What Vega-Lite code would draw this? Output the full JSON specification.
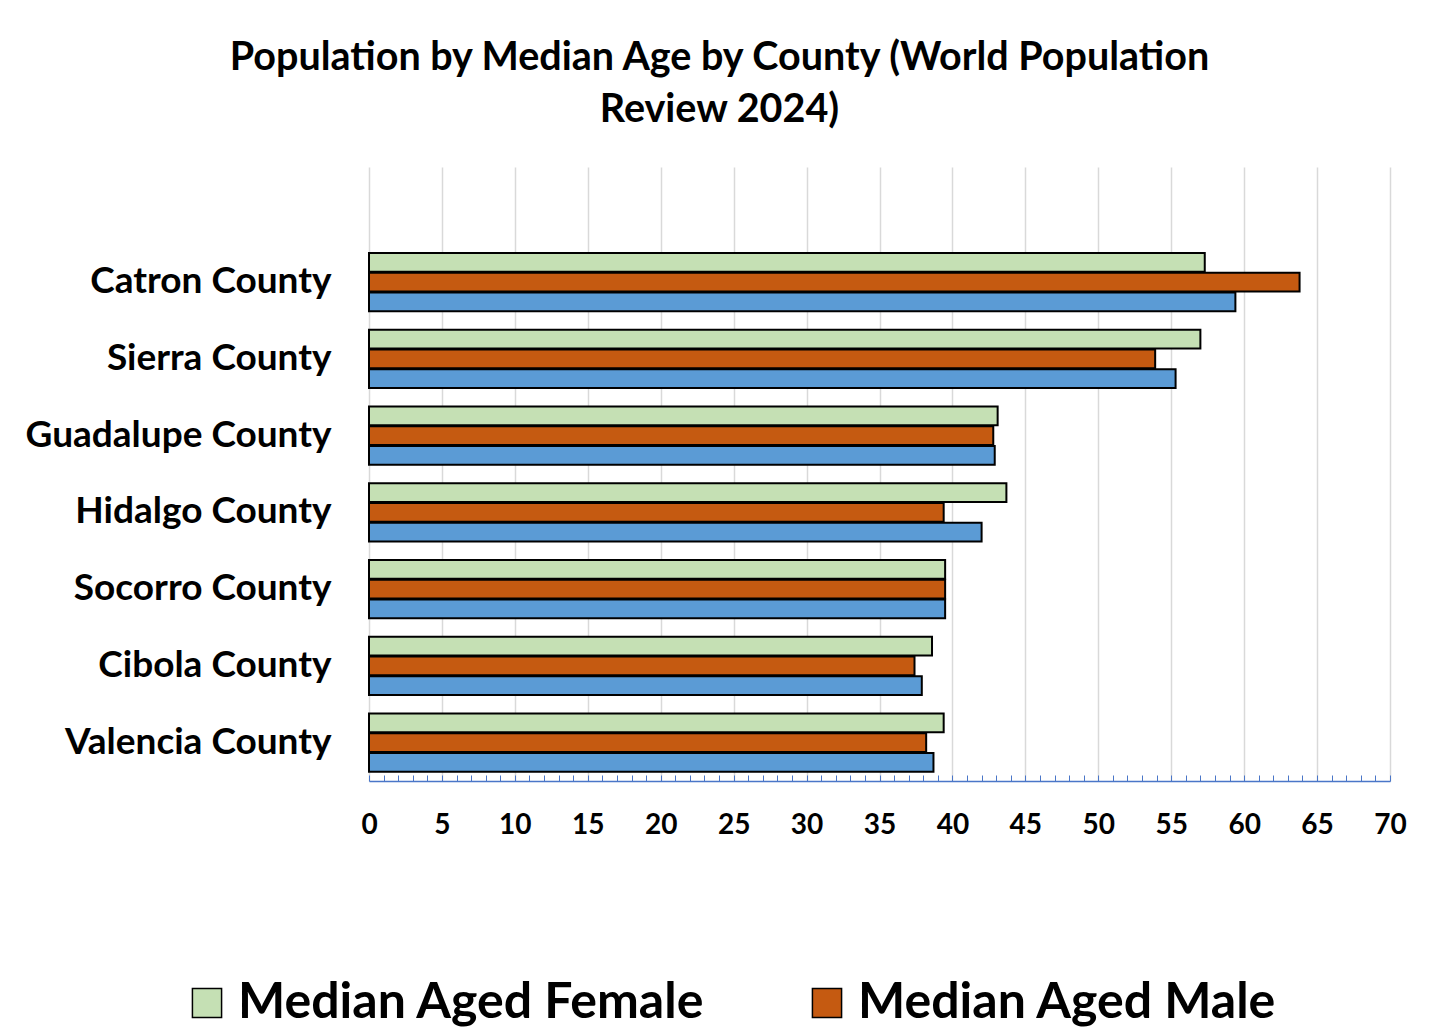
{
  "$schema": "https://vega.github.io/schema/vega-lite/v6.json",
  "autosize": {"type": "none"},
  "width": 1021,
  "height": 614,
  "padding": {"left": 369, "top": 167, "right": 48, "bottom": 246},
  "background": "white",
  "config": {"font": "Lato", "view": {"stroke": null}},
  "title": {
    "text": ["Population by Median Age by County (World Population", "Review 2024)"],
    "fontSize": 39.5,
    "fontWeight": "bold",
    "color": "#000000",
    "anchor": "middle",
    "dx": -160,
    "lineHeight": 52,
    "offset": 37
  },
  "data": {
    "values": [
      {"county": "Catron County", "series": "Median Aged Female", "value": 57.3},
      {"county": "Catron County", "series": "Median Aged Male", "value": 63.8},
      {"county": "Catron County", "series": "Median Age", "value": 59.4},
      {"county": "Sierra County", "series": "Median Aged Female", "value": 57.0},
      {"county": "Sierra County", "series": "Median Aged Male", "value": 53.9},
      {"county": "Sierra County", "series": "Median Age", "value": 55.3},
      {"county": "Guadalupe County", "series": "Median Aged Female", "value": 43.1},
      {"county": "Guadalupe County", "series": "Median Aged Male", "value": 42.8},
      {"county": "Guadalupe County", "series": "Median Age", "value": 42.9},
      {"county": "Hidalgo County", "series": "Median Aged Female", "value": 43.7},
      {"county": "Hidalgo County", "series": "Median Aged Male", "value": 39.4},
      {"county": "Hidalgo County", "series": "Median Age", "value": 42.0},
      {"county": "Socorro County", "series": "Median Aged Female", "value": 39.5},
      {"county": "Socorro County", "series": "Median Aged Male", "value": 39.5},
      {"county": "Socorro County", "series": "Median Age", "value": 39.5},
      {"county": "Cibola County", "series": "Median Aged Female", "value": 38.6},
      {"county": "Cibola County", "series": "Median Aged Male", "value": 37.4},
      {"county": "Cibola County", "series": "Median Age", "value": 37.9},
      {"county": "Valencia County", "series": "Median Aged Female", "value": 39.4},
      {"county": "Valencia County", "series": "Median Aged Male", "value": 38.2},
      {"county": "Valencia County", "series": "Median Age", "value": 38.7}
    ]
  },
  "mark": {"type": "bar", "stroke": "#000000", "strokeWidth": 2},
  "encoding": {
    "y": {
      "field": "county",
      "type": "nominal",
      "scale": {
        "domain": [" ", "Catron County", "Sierra County", "Guadalupe County", "Hidalgo County", "Socorro County", "Cibola County", "Valencia County"],
        "paddingInner": 0.244,
        "paddingOuter": 0.122
      },
      "axis": {
        "title": null,
        "domain": false,
        "ticks": false,
        "labelFontSize": 37,
        "labelFontWeight": "bold",
        "labelColor": "#000000",
        "labelPadding": 38,
        "labelLimit": 500
      }
    },
    "yOffset": {
      "field": "series",
      "type": "nominal",
      "scale": {"domain": ["Median Aged Female", "Median Aged Male", "Median Age"], "paddingInner": 0.06}
    },
    "x": {
      "field": "value",
      "type": "quantitative",
      "scale": {"domain": [0, 70], "nice": false},
      "axis": {
        "title": null,
        "values": [0,1,2,3,4,5,6,7,8,9,10,11,12,13,14,15,16,17,18,19,20,21,22,23,24,25,26,27,28,29,30,31,32,33,34,35,36,37,38,39,40,41,42,43,44,45,46,47,48,49,50,51,52,53,54,55,56,57,58,59,60,61,62,63,64,65,66,67,68,69,70],
        "labelExpr": "datum.value % 5 === 0 ? datum.label : ''",
        "labelOverlap": false,
        "labelFlush": false,
        "labelFontSize": 28,
        "labelFontWeight": "bold",
        "labelColor": "#000000",
        "labelPadding": 36,
        "labelBaseline": "top",
        "domainColor": "#4a76c8",
        "domainWidth": 1.5,
        "tickColor": "#4a76c8",
        "tickWidth": 1,
        "tickSize": -6,
        "grid": true,
        "gridColor": "#d9d9d9",
        "gridWidth": 1.5,
        "gridOpacity": {"condition": {"test": "datum.value % 5 === 0", "value": 1}, "value": 0}
      }
    },
    "color": {
      "field": "series",
      "type": "nominal",
      "scale": {
        "domain": ["Median Aged Female", "Median Aged Male", "Median Age"],
        "range": ["#c5e0b4", "#c55a11", "#5b9bd5"]
      },
      "legend": {
        "title": null,
        "orient": "none",
        "legendX": -187,
        "legendY": 811,
        "direction": "horizontal",
        "columns": 2,
        "columnPadding": 96,
        "rowPadding": 100,
        "padding": 0,
        "symbolType": "square",
        "symbolSize": 850,
        "symbolStrokeColor": "#000000",
        "symbolStrokeWidth": 1.5,
        "labelFontSize": 50,
        "labelFontWeight": "bold",
        "labelColor": "#000000",
        "labelOffset": 6,
        "labelLimit": 800
      }
    }
  }
}
